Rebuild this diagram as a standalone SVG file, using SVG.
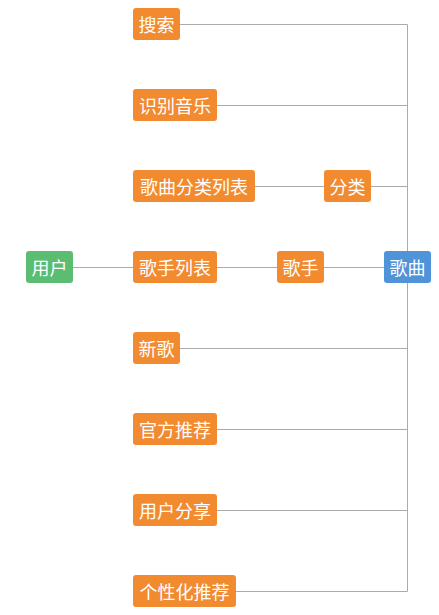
<svg xmlns="http://www.w3.org/2000/svg" width="439" height="615" viewBox="0 0 439 615">
<style>
.o{fill:#F28A30}
.b{fill:#4F93D8}
.g{fill:#5BBD72}
text{font-family:"Noto Sans CJK SC","Noto Sans",sans-serif;font-size:18px;fill:#fff;text-anchor:middle;dominant-baseline:central}
.e{stroke:#ABABAB;stroke-width:1;fill:none}
</style>
<rect width="439" height="615" fill="#fff"/>
<g id="connectors">
<path class="e" d="M180 24.5H407.5V591.5H236"/>
<path class="e" d="M217 105.5H407.5"/>
<path class="e" d="M255 186.5H324M371 186.5H407.5"/>
<path class="e" d="M73 267.5H133M217 267.5H277M324 267.5H384"/>
<path class="e" d="M180 348.5H407.5"/>
<path class="e" d="M217 429.5H407.5"/>
<path class="e" d="M217 510.5H407.5"/>
</g>
<g id="n1"><rect class="o" x="133" y="8" width="47" height="32" rx="3"/><text x="156.5" y="24">搜索</text></g>
<g id="n2"><rect class="o" x="133" y="89" width="84" height="32" rx="3"/><text x="175" y="105">识别音乐</text></g>
<g id="n3"><rect class="o" x="133" y="170" width="122" height="32" rx="3"/><text x="194" y="186">歌曲分类列表</text></g>
<g id="n3b"><rect class="o" x="324" y="170" width="47" height="32" rx="3"/><text x="347.5" y="186">分类</text></g>
<g id="user"><rect class="g" x="26" y="251" width="47" height="32" rx="3"/><text x="49.5" y="267">用户</text></g>
<g id="n4"><rect class="o" x="133" y="251" width="84" height="32" rx="3"/><text x="175" y="267">歌手列表</text></g>
<g id="n4b"><rect class="o" x="277" y="251" width="47" height="32" rx="3"/><text x="300.5" y="267">歌手</text></g>
<g id="song"><rect class="b" x="384" y="251" width="47" height="32" rx="3"/><text x="407.5" y="267">歌曲</text></g>
<g id="n5"><rect class="o" x="133" y="332" width="47" height="32" rx="3"/><text x="156.5" y="348">新歌</text></g>
<g id="n6"><rect class="o" x="133" y="413" width="84" height="32" rx="3"/><text x="175" y="429">官方推荐</text></g>
<g id="n7"><rect class="o" x="133" y="494" width="84" height="32" rx="3"/><text x="175" y="510">用户分享</text></g>
<g id="n8"><rect class="o" x="133" y="575" width="103" height="32" rx="3"/><text x="184.5" y="591">个性化推荐</text></g>
</svg>
